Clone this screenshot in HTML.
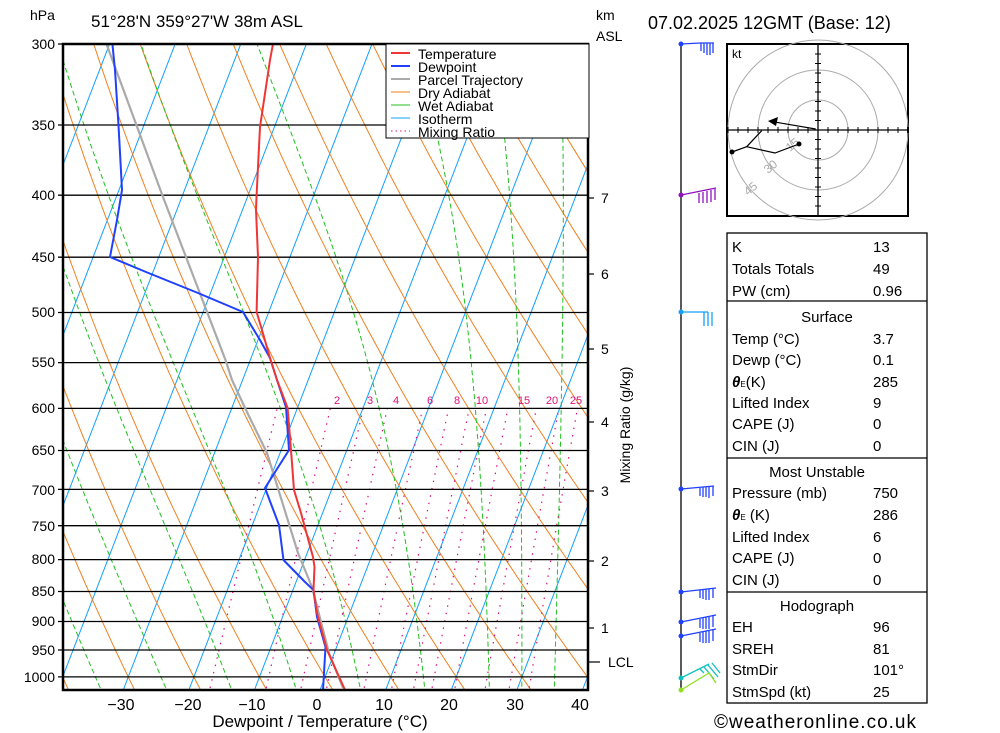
<!DOCTYPE html>
<html><head><meta charset="utf-8"><style>
body{margin:0;background:#fff}
svg{display:block;font-family:"Liberation Sans","DejaVu Sans",sans-serif}
</style></head><body>
<svg id="s" width="1000" height="733" viewBox="0 0 1000 733" xmlns="http://www.w3.org/2000/svg">
<defs><clipPath id="c"><rect x="63" y="44" width="525" height="646"/></clipPath></defs>
<rect width="1000" height="733" fill="#fff"/>
<g id="bg" clip-path="url(#c)"></g>
<g id="pl" stroke="#000" stroke-width="1.3"></g>
<g font-size="15" fill="#000">
<text x="30" y="20" font-size="14">hPa</text>
<text x="91" y="27" font-size="17">51°28'N  359°27'W  38m  ASL</text>
<text x="596" y="20" font-size="14">km</text>
<text x="596" y="41" font-size="14">ASL</text>
<text x="648" y="29" font-size="18">07.02.2025  12GMT  (Base: 12)</text>
</g>
<g id="plab" font-size="14" text-anchor="end"></g>
<g id="tlab" font-size="16" text-anchor="middle"></g>
<text x="320" y="727" font-size="17" text-anchor="middle">Dewpoint / Temperature (°C)</text>
<g font-size="14">
<text x="601" y="203">7</text><text x="601" y="279">6</text><text x="601" y="354">5</text>
<text x="601" y="427">4</text><text x="601" y="496">3</text><text x="601" y="566">2</text>
<text x="601" y="633">1</text><text x="608" y="667">LCL</text>
</g>
<g stroke="#000" stroke-width="1.2">
<line x1="588" y1="198" x2="594" y2="198"/><line x1="588" y1="274" x2="594" y2="274"/>
<line x1="588" y1="349" x2="594" y2="349"/><line x1="588" y1="422" x2="594" y2="422"/>
<line x1="588" y1="491" x2="594" y2="491"/><line x1="588" y1="561" x2="594" y2="561"/>
<line x1="588" y1="628" x2="594" y2="628"/><line x1="588" y1="662" x2="600" y2="662"/>
</g>
<text transform="translate(630,425) rotate(-90)" font-size="14" text-anchor="middle">Mixing Ratio (g/kg)</text>
<g id="mrl" font-size="11" fill="#e0107a" text-anchor="middle"></g>
<g clip-path="url(#c)" fill="none" stroke-linejoin="round">
<polyline stroke="#aaa" stroke-width="2.2" points="106.5,44 163,197 225.5,360 232,380 246,410 267,453 298,553 312,587 329,653 343,688"/>
<polyline stroke="#2040ff" stroke-width="2" points="112.4,44 115,70 118.6,127 122,190 117,220 110,257 146,272 198,293 243,312 260,340 270,358 277,380 286,407 289,450 265,488 279,525 283.5,560 305,582 313.5,590 317,617 325.5,647 324,673 323,690"/>
<polyline stroke="#f03535" stroke-width="2" points="273,44 270,60 260,127 256.5,197 256,210 258,257 256.6,312 262,330 270,358 277,380 287.6,408 291,450 294,490 301,513 313,557 314.5,567 313.5,590 317,613 327,650 336,670 345,690"/>
</g>
<rect x="63" y="44" width="525" height="646" fill="none" stroke="#000" stroke-width="2.5"/>
<!-- legend -->
<rect x="386" y="44" width="203" height="94" fill="#fff" stroke="#000" stroke-width="1"/>
<g stroke-width="2">
<line x1="391" y1="53" x2="410" y2="53" stroke="#f03535"/>
<line x1="391" y1="66" x2="410" y2="66" stroke="#2040ff"/>
<line x1="391" y1="79" x2="410" y2="79" stroke="#aaa"/>
<line x1="391" y1="92" x2="410" y2="92" stroke="#f08020" stroke-width="1"/>
<line x1="391" y1="105" x2="410" y2="105" stroke="#20c020" stroke-width="1"/>
<line x1="391" y1="118" x2="410" y2="118" stroke="#10a0ff" stroke-width="1"/>
<line x1="391" y1="131" x2="410" y2="131" stroke="#e0107a" stroke-width="1" stroke-dasharray="1.5,3"/>
</g>
<g font-size="14">
<text x="418" y="59">Temperature</text><text x="418" y="72">Dewpoint</text>
<text x="418" y="85">Parcel Trajectory</text><text x="418" y="98">Dry Adiabat</text>
<text x="418" y="111">Wet Adiabat</text><text x="418" y="124">Isotherm</text>
<text x="418" y="137">Mixing Ratio</text>
</g>
<!-- wind barbs -->
<line x1="681" y1="44" x2="681" y2="690" stroke="#000" stroke-width="1.3"/>
<g fill="none" stroke-width="1.3">
<g stroke="#2040ff"><polyline points="681,44 700,43"/><path d="M700,43h14M701,43v8M704,43v10M707,43v12M710,43v12M713,43v10"/></g>
<g stroke="#9010c0"><polyline points="681,195 716,188"/><path d="M699,193v10M703,192v11M707,191v12M711,190v12M715,189v11"/></g>
<g stroke="#10a0ff"><path d="M681,312h27M704,312v14M708,312v14M712,312v14M698,312v-0"/></g>
<g stroke="#2040ff"><polyline points="681,489 714,486"/><path d="M700,488v8M703,487v10M706,487v10M709,487v11M713,486v10"/></g>
<g stroke="#2040ff"><polyline points="681,592 716,588"/><path d="M700,590v8M703,589v10M706,589v11M709,589v11M713,588v10"/></g>
<g stroke="#2040ff"><polyline points="681,622 716,615"/><path d="M700,619v9M703,618v11M706,617v12M709,617v12M713,616v11"/></g>
<g stroke="#2040ff"><polyline points="681,636 716,629"/><path d="M700,633v9M703,632v11M706,631v12M709,631v12M713,630v11"/></g>
<g stroke="#10c0c0"><polyline points="681,678 709,664"/><path d="M704,667l10,12M708,665l10,12M712,663l8,10M700,669l4,4"/></g>
<g stroke="#90e020"><polyline points="681,690 709,673 716,683"/></g>
</g>
<g fill="#2040ff"><circle cx="681" cy="44" r="2.5"/><circle cx="681" cy="489" r="2.5"/><circle cx="681" cy="592" r="2.5"/><circle cx="681" cy="622" r="2.5"/><circle cx="681" cy="636" r="2.5"/></g>
<circle cx="681" cy="195" r="2.5" fill="#9010c0"/><circle cx="681" cy="312" r="2.5" fill="#10a0ff"/>
<circle cx="681" cy="678" r="2.5" fill="#10c0c0"/><circle cx="681" cy="690" r="2.5" fill="#90e020"/>
<!-- hodograph -->
<g>
<rect x="727" y="44" width="181" height="172" fill="#fff" stroke="#000" stroke-width="2"/>
<g fill="none" stroke="#aaa" stroke-width="1">
<circle cx="818" cy="130" r="30"/><circle cx="818" cy="130" r="60"/><circle cx="818" cy="130" r="90"/>
</g>
<g id="ht" stroke="#000" stroke-width="1"></g>
<line x1="727" y1="130" x2="908" y2="130" stroke="#000" stroke-width="1.3"/>
<line x1="818" y1="44" x2="818" y2="216" stroke="#000" stroke-width="1.3"/>
<text x="732" y="58" font-size="12">kt</text>
<g fill="#aaa" font-size="12"><text transform="translate(790,152) rotate(-40)">15</text><text transform="translate(768,174) rotate(-40)">30</text><text transform="translate(748,196) rotate(-40)">45</text></g>
<g fill="none" stroke="#000" stroke-width="1.2">
<polyline points="799,144 775,153 746.7,146.7 761.7,130.7"/>
<polyline points="746.7,146.7 732,152"/>
<line x1="815.7,129" x2="0"/>
<line x1="815.7" y1="129" x2="772.7" y2="121.7"/>
</g>
<polygon points="768,121 778,117 776,126" fill="#000"/>
<circle cx="799" cy="144" r="2.5"/><circle cx="732" cy="152" r="2.5"/>
</g>
<!-- table -->
<g fill="none" stroke="#000" stroke-width="1.3">
<rect x="727" y="233" width="200" height="470"/>
<line x1="727" y1="301" x2="927" y2="301"/><line x1="727" y1="458" x2="927" y2="458"/><line x1="727" y1="592" x2="927" y2="592"/>
</g>
<g font-size="15">
<text x="732" y="252">K</text><text x="873" y="252">13</text>
<text x="732" y="274">Totals Totals</text><text x="873" y="274">49</text>
<text x="732" y="296">PW (cm)</text><text x="873" y="296">0.96</text>
<text x="827" y="322" text-anchor="middle">Surface</text>
<text x="732" y="344">Temp (°C)</text><text x="873" y="344">3.7</text>
<text x="732" y="365">Dewp (°C)</text><text x="873" y="365">0.1</text>
<text x="732" y="387"><tspan font-style="italic" font-weight="bold">θ</tspan><tspan font-size="8">E</tspan>(K)</text><text x="873" y="387">285</text>
<text x="732" y="408">Lifted Index</text><text x="873" y="408">9</text>
<text x="732" y="429">CAPE (J)</text><text x="873" y="429">0</text>
<text x="732" y="451">CIN (J)</text><text x="873" y="451">0</text>
<text x="817" y="477" text-anchor="middle">Most Unstable</text>
<text x="732" y="498">Pressure (mb)</text><text x="873" y="498">750</text>
<text x="732" y="520"><tspan font-style="italic" font-weight="bold">θ</tspan><tspan font-size="8">E</tspan> (K)</text><text x="873" y="520">286</text>
<text x="732" y="542">Lifted Index</text><text x="873" y="542">6</text>
<text x="732" y="563">CAPE (J)</text><text x="873" y="563">0</text>
<text x="732" y="585">CIN (J)</text><text x="873" y="585">0</text>
<text x="817" y="611" text-anchor="middle">Hodograph</text>
<text x="732" y="632">EH</text><text x="873" y="632">96</text>
<text x="732" y="654">SREH</text><text x="873" y="654">81</text>
<text x="732" y="675">StmDir</text><text x="873" y="675">101°</text>
<text x="732" y="697">StmSpd (kt)</text><text x="873" y="697">25</text>
</g>
<text x="714" y="728" font-size="19" letter-spacing="1">©weatheronline.co.uk</text>
<g id="lbls" font-size="14" text-anchor="end">
<text x="55" y="49">300</text><text x="55" y="130">350</text><text x="55" y="200">400</text><text x="55" y="262">450</text>
<text x="55" y="317">500</text><text x="55" y="367">550</text><text x="55" y="413">600</text><text x="55" y="455">650</text>
<text x="55" y="495">700</text><text x="55" y="531">750</text><text x="55" y="564">800</text><text x="55" y="596">850</text>
<text x="55" y="626">900</text><text x="55" y="655">950</text><text x="55" y="682">1000</text>
</g>
<g font-size="16" text-anchor="middle">
<text x="121" y="710">−30</text><text x="188" y="710">−20</text><text x="252" y="710">−10</text><text x="317" y="710">0</text>
<text x="384" y="710">10</text><text x="449" y="710">20</text><text x="515" y="710">30</text><text x="580" y="710">40</text>
</g>
<g font-size="11" fill="#e0107a" text-anchor="middle">
<text x="337" y="404">2</text><text x="370" y="404">3</text><text x="396" y="404">4</text><text x="430" y="404">6</text>
<text x="457" y="404">8</text><text x="482" y="404">10</text><text x="524" y="404">15</text><text x="552" y="404">20</text><text x="576" y="404">25</text>
</g>
<script>
(function(){
var NS="http://www.w3.org/2000/svg";
function Y(p){return 44+525.7*(Math.log(p)-Math.log(300));}
function X(T,p){return 320+6.56*T+0.385*(690-Y(p));}
var bg=document.getElementById('bg'),pl=document.getElementById('pl');
function line(g,pts,col,w,dash){var e=document.createElementNS(NS,'polyline');e.setAttribute('points',pts.map(function(a){return a[0].toFixed(1)+','+a[1].toFixed(1)}).join(' '));e.setAttribute('fill','none');e.setAttribute('stroke',col);e.setAttribute('stroke-width',w);if(dash)e.setAttribute('stroke-dasharray',dash);g.appendChild(e);}
var ps=[];for(var p=1050;p>=290;p-=10)ps.push(p);
// isotherms
for(var T=-130;T<=40;T+=10){line(bg,[[X(T,1050),Y(1050)],[X(T,290),Y(290)]],'#10a0ff',1);}
// dry adiabats
for(var t=-60;t<=140;t+=10){var th=t+273.15;line(bg,ps.map(function(p){return [X(th*Math.pow(p/1000,0.2857)-273.15,p),Y(p)]}),'#f08020',1);}
// wet adiabats
function es(T){return 6.112*Math.exp(17.67*T/(T+243.5));}
function gm(T,p){var Tk=T+273.15,e=es(T),r=0.622*e/(p-e),L=2.5e6,Rd=287,cp=1005;
 return (Rd*Tk+L*r)/(cp+L*L*r*0.622/(Rd*Tk*Tk))/p;}
[-35,-25,-15,-5,5,15,25,30,35].forEach(function(t0){
 var pts=[],T=t0,p=1000,dp=5;
 var up=[];for(p=1000;p>=290;p-=dp){up.push([X(T,p),Y(p)]);T-=gm(T,p)*dp;}
 T=t0;var dn=[];for(p=1000;p<=1050;p+=dp){dn.unshift([X(T,p),Y(p)]);T+=gm(T,p)*dp;}
 line(bg,dn.concat(up),'#20c020',1,'5,3');});
// mixing ratio
[1,2,3,4,6,8,10,12,15,20,25,30].forEach(function(w){
 var pts=[];for(var p=1050;p>=600;p-=10){var e=w*p/(622+w),l=Math.log(e/6.112);pts.push([X(243.5*l/(17.67-l),p),Y(p)]);}
 line(bg,pts,'#e0107a',1.2,'1.5,6');});
// pressure lines
[300,350,400,450,500,550,600,650,700,750,800,850,900,950,1000].forEach(function(p){
 line(pl,[[58,Y(p)],[588,Y(p)]],'#000',1.3);});
// hodo ticks
var ht=document.getElementById('ht');
for(var i=-9;i<=9;i++){if(!i)continue;line(ht,[[818+i*10,127],[818+i*10,133]],'#000',1);line(ht,[[815,130+i*9.5],[821,130+i*9.5]],'#000',1);}
})();
</script>
</svg>
</body></html>
